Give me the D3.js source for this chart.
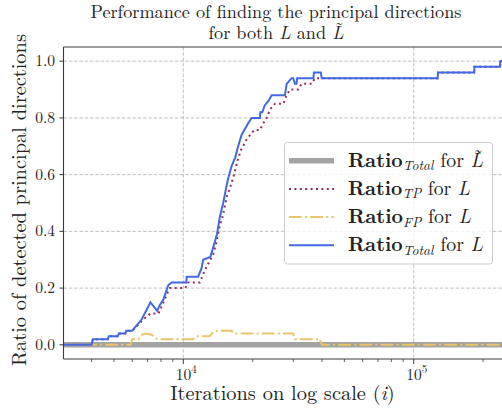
<!DOCTYPE html>
<html lang="en">
<head>
<meta charset="UTF-8">
<script src="https://d3js.org/d3.v7.min.js"></script>
<title>Principal directions</title>
<style>
  body { margin: 0; background: #fff; }
</style>
</head>
<body>
<div id="canvas"></div>
<script>
// values (iteration, ratio)
const totalIter  = [3000, 4000, 4050, 4700, 4750, 5200, 5250, 5600, 5650, 6000, 6300, 6600, 7200, 7700, 7900, 8200, 8600, 8900,
                    10300, 10350, 11600, 12000, 12200, 13100, 13500, 14000, 14400, 14900, 15400, 15700, 16200, 16800, 17300,
                    17900, 19100, 19800, 21500, 21600, 22000, 22600, 23400, 24200, 27600, 28100, 29500, 30000, 30500, 31000,
                    31200, 36700, 36900, 39500, 39900, 127000, 127500, 183000, 183500, 237000, 237500, 260000]
const totalRatio = [0, 0, 0.02, 0.02, 0.03, 0.03, 0.04, 0.04, 0.05, 0.05, 0.07, 0.09, 0.15, 0.12, 0.14, 0.16, 0.21, 0.22,
                    0.22, 0.24, 0.24, 0.27, 0.30, 0.31, 0.345, 0.39, 0.45, 0.50, 0.56, 0.59, 0.63, 0.66, 0.70,
                    0.74, 0.78, 0.80, 0.80, 0.82, 0.82, 0.845, 0.86, 0.88, 0.88, 0.92, 0.94, 0.94, 0.92, 0.92,
                    0.94, 0.94, 0.96, 0.96, 0.94, 0.94, 0.96, 0.96, 0.98, 0.98, 1.0, 1.0]

const tpIter  = [3000, 4000, 4050, 4700, 4750, 5200, 5250, 5600, 5650, 6000, 6200, 6700, 7200, 7800, 8200, 8500, 8750,
                 10200, 10500, 11800, 12200, 12600, 13100, 13500, 14000, 14400, 14900, 15400, 16000, 16600, 17200, 17800,
                 18700, 19500, 20300, 21500, 22200, 23000, 23800, 25000, 27200, 27900, 29000, 31600, 32600, 36100, 37300,
                 127000, 127500, 183000, 183500, 237000, 237500, 260000]
const tpRatio = [0, 0, 0.02, 0.02, 0.03, 0.03, 0.04, 0.04, 0.05, 0.05, 0.06, 0.09, 0.11, 0.11, 0.15, 0.18, 0.20,
                 0.20, 0.22, 0.22, 0.25, 0.275, 0.30, 0.32, 0.37, 0.42, 0.46, 0.52, 0.557, 0.60, 0.65, 0.687,
                 0.72, 0.74, 0.757, 0.757, 0.78, 0.80, 0.83, 0.85, 0.85, 0.875, 0.90, 0.90, 0.92, 0.92, 0.94,
                 0.94, 0.96, 0.96, 0.98, 0.98, 1.0, 1.0]

const fpIter  = [3000, 5900, 6000, 6400, 6600, 6900, 7300, 7700, 11000, 11400, 13000, 13500, 14000, 16200, 16500,
                 30000, 30500, 39200, 39900, 260000]
const fpRatio = [0, 0, 0.02, 0.02, 0.035, 0.04, 0.035, 0.02, 0.02, 0.03, 0.03, 0.045, 0.05, 0.05, 0.04,
                 0.04, 0.02, 0.02, 0, 0]

const tildeIter  = [3000, 260000]
const tildeRatio = [0, 0]

const yTicks  = [0, 0.2, 0.4, 0.6, 0.8, 1.0]
const xMajor  = [1e4, 1e5]
const xMinor  = [4000, 5000, 6000, 7000, 8000, 9000, 20000, 30000, 40000, 50000, 60000, 70000, 80000, 90000, 200000]
const xExp    = ["4", "5"]

const W = 502, H = 412
const pLeft = 63.5, pRight = 503, pTop = 47, pBottom = 359
const serif = "Latin Modern Roman, Liberation Serif, serif"
const ink = "#222"

const svg = d3.select("#canvas").append("svg").attr("width", W).attr("height", H)

const x = d3.scaleLog().domain([3020, 244100]).range([pLeft, pRight])
const y = d3.scaleLinear().domain([-0.05, 1.05]).range([pBottom, pTop])

svg.append("clipPath").attr("id", "clip")
   .append("rect").attr("x", pLeft).attr("y", pTop).attr("width", pRight - pLeft).attr("height", pBottom - pTop)

// grid
const grid = svg.append("g").attr("stroke", "#b0b0b0").attr("stroke-width", 0.8).attr("stroke-dasharray", "3.5,1.8")
grid.selectAll(".gy").data(yTicks).enter().append("line")
    .attr("x1", pLeft).attr("x2", pRight).attr("y1", d => y(d)).attr("y2", d => y(d))
grid.selectAll(".gx").data(xMajor).enter().append("line")
    .attr("x1", d => x(d)).attr("x2", d => x(d)).attr("y1", pTop).attr("y2", pBottom)

const series = [
  {it: tildeIter, r: tildeRatio, color: "#a3a3a3", w: 5.5, dash: null},
  {it: tpIter, r: tpRatio, color: "#9a2a62", w: 2, dash: "2,3.4"},
  {it: fpIter, r: fpRatio, color: "#e9c46a", w: 2, dash: "12.8,3.2,2,3.2"},
  {it: totalIter, r: totalRatio, color: "#4169e1", w: 2, dash: null}
]

const line = d3.line().x(d => x(d[0])).y(d => y(d[1]))
const plot = svg.append("g").attr("clip-path", "url(#clip)")
series.forEach(s => {
  plot.append("path")
      .attr("d", line(s.it.map((v, i) => [v, s.r[i]])))
      .attr("fill", "none").attr("stroke", s.color).attr("stroke-width", s.w)
      .attr("stroke-dasharray", s.dash)
})

// spines
const spine = svg.append("g").attr("stroke", "#3a3a3a").attr("stroke-width", 1.1)
spine.append("line").attr("x1", pLeft).attr("x2", pLeft).attr("y1", pTop).attr("y2", pBottom)
spine.append("line").attr("x1", pLeft).attr("x2", pRight).attr("y1", pBottom).attr("y2", pBottom)
spine.append("line").attr("x1", pLeft).attr("x2", pRight).attr("y1", pTop).attr("y2", pTop)

// y ticks
svg.selectAll(".yt").data(yTicks).enter().append("line")
   .attr("x1", pLeft - 4).attr("x2", pLeft).attr("y1", d => y(d)).attr("y2", d => y(d))
   .attr("stroke", "#3a3a3a").attr("stroke-width", 1)
svg.selectAll(".yl").data(yTicks).enter().append("text")
   .attr("x", 55).attr("y", d => y(d) + 5).attr("text-anchor", "end")
   .attr("font-family", serif).attr("fill", ink).attr("font-size", 15.5).text(d => d.toFixed(1))

// x ticks
svg.selectAll(".xt").data(xMajor).enter().append("line")
   .attr("x1", d => x(d)).attr("x2", d => x(d)).attr("y1", pBottom).attr("y2", pBottom + 5)
   .attr("stroke", "#3a3a3a").attr("stroke-width", 1)
svg.selectAll(".xm").data(xMinor).enter().append("line")
   .attr("x1", d => x(d)).attr("x2", d => x(d)).attr("y1", pBottom).attr("y2", pBottom + 3)
   .attr("stroke", "#3a3a3a").attr("stroke-width", 0.8)
const xl = svg.selectAll(".xl").data(xMajor).enter().append("text")
   .attr("x", d => x(d) + 3).attr("y", 380).attr("text-anchor", "middle")
   .attr("font-family", serif).attr("fill", ink).attr("font-size", 15.5)
xl.append("tspan").text("10")
xl.append("tspan").attr("dy", -7).attr("font-size", 11).text((d, i) => xExp[i])

// tilde accent over the last glyph of a text
function addTilde(t, fs) {
  const node = t.node()
  const ext = node.getExtentOfChar(node.getNumberOfChars() - 1)
  const base = +t.attr("y")
  svg.append("text").attr("x", ext.x + ext.width / 2 + fs * 0.08).attr("y", base - fs * 0.2)
     .attr("text-anchor", "middle").attr("font-family", serif).attr("fill", ink)
     .attr("font-size", fs).text("\u02DC")
}

// axis labels and title
svg.append("text").attr("x", 282.5).attr("y", 400).attr("text-anchor", "middle")
   .attr("font-family", serif).attr("fill", ink).attr("font-size", 20.4)
   .call(t => {
     t.append("tspan").text("Iterations on log scale (")
     t.append("tspan").attr("font-style", "italic").text("i")
     t.append("tspan").text(")")
   })
svg.append("text").attr("transform", "translate(25.5,200) rotate(-90)").attr("text-anchor", "middle")
   .attr("font-family", serif).attr("fill", ink).attr("font-size", 20.4)
   .text("Ratio of detected principal directions")
svg.append("text").attr("x", 276).attr("y", 17.5).attr("text-anchor", "middle")
   .attr("font-family", serif).attr("fill", ink).attr("font-size", 18.2)
   .text("Performance of finding the principal directions")
const title2 = svg.append("text").attr("x", 276).attr("y", 38.5).attr("text-anchor", "middle")
   .attr("font-family", serif).attr("fill", ink).attr("font-size", 18.2)
title2.append("tspan").text("for both ")
title2.append("tspan").attr("font-style", "italic").text("L")
title2.append("tspan").text(" and ")
title2.append("tspan").attr("font-style", "italic").text("L")
addTilde(title2, 18.2)

// legend
const legSub = ["Total", "TP", "FP", "Total"]
const legTilde = [true, false, false, false]
const legLen = [135, 122, 123, 135]
const leg = svg.append("g")
leg.append("rect").attr("x", 284.5).attr("y", 142.5).attr("width", 208).attr("height", 121.5).attr("rx", 3)
   .attr("fill", "#fff").attr("fill-opacity", 0.8).attr("stroke", "#cccccc").attr("stroke-width", 1)
series.forEach((s, i) => {
  const cy = 160.7 + i * 28.2
  leg.append("line").attr("x1", 289).attr("x2", 334).attr("y1", cy).attr("y2", cy)
     .attr("stroke", s.color).attr("stroke-width", s.w).attr("stroke-dasharray", s.dash)
  const t = leg.append("text").attr("x", 348).attr("y", cy + 6).attr("font-size", 19.5)
     .attr("font-family", serif).attr("fill", ink)
     .attr("textLength", legLen[i]).attr("lengthAdjust", "spacingAndGlyphs")
  t.append("tspan").attr("font-weight", "bold").text("Ratio")
  t.append("tspan").attr("font-style", "italic").attr("font-size", 13.5).attr("dy", 3.5).text(legSub[i])
  t.append("tspan").attr("dy", -3.5).text(" for ")
  t.append("tspan").attr("font-style", "italic").text("L")
  if (legTilde[i]) addTilde(t, 19.5)
})
</script>
</body>
</html>
